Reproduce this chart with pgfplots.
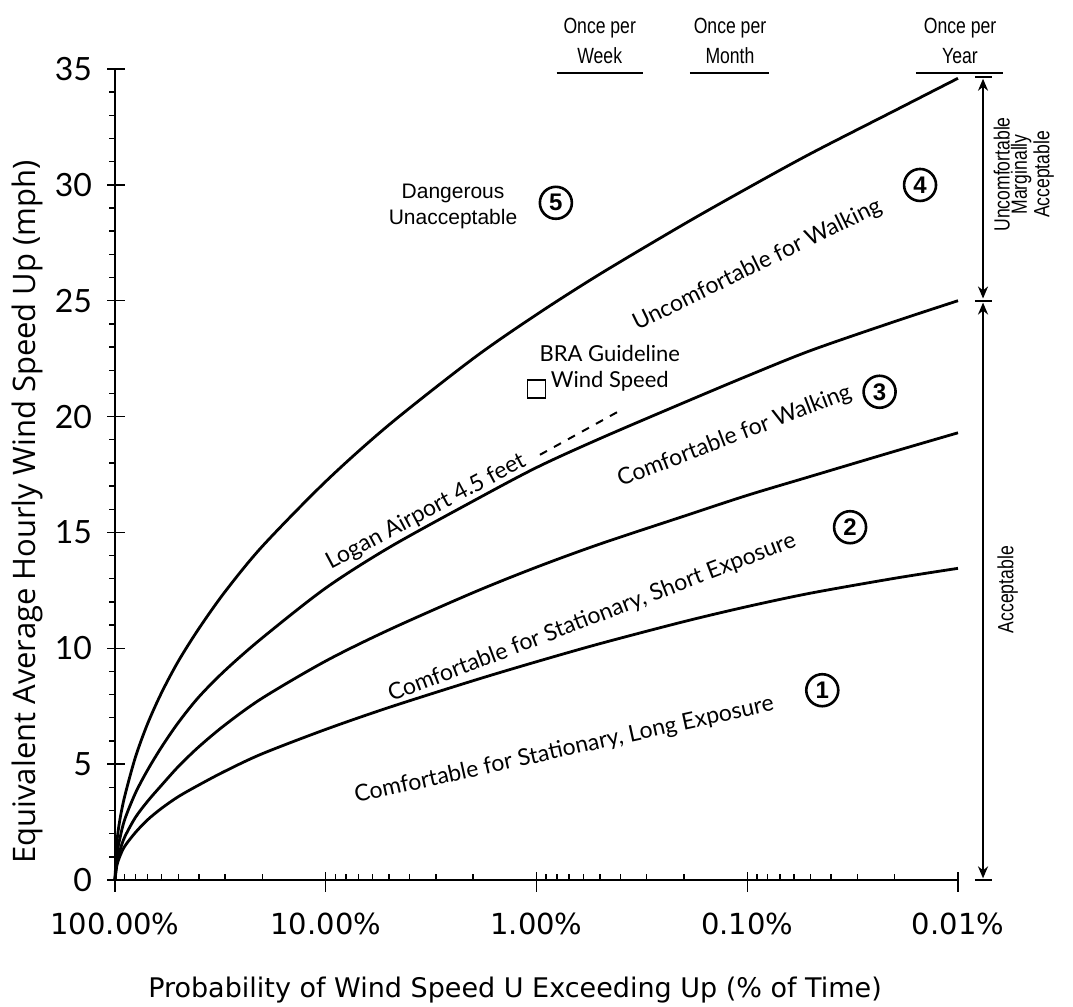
\documentclass[border=0pt]{standalone}
\usepackage{fontspec}
\usepackage{pgfplots}
\pgfplotsset{compat=1.18}
\usetikzlibrary{arrows.meta}
\setmainfont{Liberation Sans}
\newfontfamily\dejavu{DejaVu Sans}
\newfontfamily\lato{Lato}
\newfontfamily\opensans{Open Sans}
\newfontfamily\narrow[FakeStretch=0.8]{Liberation Sans}

\pgfplotstableread{
p U
100 0
98 0.62
95 1.0
90 1.45
80 2.05
70 2.6
60 3.1
50 3.6
40 4.1
30 4.7
20 5.45
10 6.5
5 7.45
2 8.6
1 9.42
0.5 10.2
0.2 11.15
0.1 11.8
0.05 12.38
0.02 13.02
0.01 13.45
}\curveA
\pgfplotstableread{
p U
100 0
98 0.8
95 1.25
90 1.85
80 2.7
70 3.4
60 4.1
50 4.9
40 5.75
30 6.7
20 7.85
10 9.45
5 10.8
2 12.4
1 13.5
0.5 14.5
0.2 15.7
0.1 16.6
0.05 17.42
0.02 18.5
0.01 19.3
}\curveB
\pgfplotstableread{
p U
100 0
98 1.1
95 1.75
90 2.6
80 3.75
70 4.75
60 5.75
50 6.8
40 7.9
30 9.05
20 10.45
10 12.6
5 14.35
2 16.35
1 17.8
0.5 19.05
0.2 20.6
0.1 21.75
0.05 22.85
0.02 24.1
0.01 25.0
}\curveC
\pgfplotstableread{
p U
100 0
98 1.6
95 2.55
90 3.6
80 5.3
70 6.75
60 8.1
50 9.45
40 10.85
30 12.45
20 14.4
10 17.2
5 19.65
2 22.5
1 24.4
0.5 26.15
0.2 28.3
0.1 29.85
0.05 31.35
0.02 33.2
0.01 34.6
}\curveD

\begin{document}
\begin{tikzpicture}
\path[use as bounding box] (-57.5pt,-63.5pt) rectangle (479pt,440pt);
\begin{axis}[
  at={(0pt,0pt)}, anchor=south west,
  scale only axis, width=421.5pt, height=405.5pt,
  xmode=log, x dir=reverse, xmin=0.01, xmax=100,
  ymin=0, ymax=35,
  axis x line*=bottom, axis y line*=left,
  axis line style={line width=0.9pt},
  clip=false,
  xtick={0.01,0.1,1,10,100},
  xticklabels={0.01\%,0.10\%,1.00\%,10.00\%,100.00\%},
  minor xtick={0.02,0.03,0.04,0.05,0.06,0.07,0.08,0.09,0.2,0.3,0.4,0.5,0.6,0.7,0.8,0.9,2,3,4,5,6,7,8,9,20,30,40,50,60,70,80,90},
  ytick={0,5,10,15,20,25,30,35},
  yticklabels={0,5,10,15,20,25,30,35},
  minor ytick={1,2,3,4,6,7,8,9,11,12,13,14,16,17,18,19,21,22,23,24,26,27,28,29,31,32,33,34},
  xtick align=inside, ytick align=outside,
  major tick length=4pt, minor tick length=3pt,
  tick style={line width=0.7pt, black},
  extra x ticks={0.01,0.1,1,10,100}, extra x tick labels={},
  extra x tick style={xtick align=outside, major tick length=6pt},
  extra y ticks={5,10,15,20,25,30,35}, extra y tick labels={},
  extra y tick style={ytick align=inside, major tick length=5pt},
  xticklabel style={font=\dejavu\fontsize{14.5}{16}\selectfont, yshift=-13pt},
  yticklabel style={font=\lato\fontsize{16}{18}\selectfont, xshift=-4pt},
  xlabel={Probability of Wind Speed U Exceeding Up (\% of Time)},
  xlabel style={font=\dejavu\fontsize{13.5}{15}\selectfont, at={(axis description cs:0.4745,0)}, anchor=center, yshift=-55pt},
  ylabel={Equivalent Average Hourly Wind Speed Up (mph)},
  ylabel style={font=\opensans\fontsize{15.5}{17}\selectfont, at={(axis description cs:-0.1044,0.4538)}, anchor=center},
]
\addplot[black, line width=1.4pt, smooth, tension=0.5] table[x=p,y=U] {\curveA};
\addplot[black, line width=1.4pt, smooth, tension=0.5] table[x=p,y=U] {\curveB};
\addplot[black, line width=1.4pt, smooth, tension=0.5] table[x=p,y=U] {\curveC};
\addplot[black, line width=1.4pt, smooth, tension=0.5] table[x=p,y=U] {\curveD};
% BRA guideline marker
\addplot[only marks, mark=square, mark size=4.5pt, mark options={line width=0.8pt, black}] coordinates {(1,21.2)};

\draw[line width=1pt, dash pattern=on 4pt off 4pt] (axis cs:0.963,18.35) -- (axis cs:0.394,20.3);

\tikzset{circnum/.style={circle, draw, line width=1.3pt, inner sep=0pt, minimum size=16pt, font=\bfseries\fontsize{12}{12}\selectfont}}
\tikzset{clab/.style={font=\lato\fontsize{11.5}{13}\selectfont, inner sep=0pt}}

\node[font=\fontsize{10.5}{13}\selectfont, align=center] at (axis description cs:0.401,0.830) {Dangerous\\Unacceptable};
\node[circnum] at (axis description cs:0.523,0.835) {5};
\node[clab, rotate=26] at (axis description cs:0.762,0.758) {Uncomfortable for Walking};
\node[circnum] at (axis description cs:0.955,0.857) {4};
\node[font=\lato\fontsize{11}{13}\selectfont, align=center] at (axis description cs:0.587,0.631) {BRA Guideline\\Wind Speed};
\node[clab, rotate=28] at (axis description cs:0.369,0.454) {Logan Airport 4.5 feet};
\node[clab, rotate=21] at (axis description cs:0.735,0.547) {Comfortable for Walking};
\node[circnum] at (axis description cs:0.907,0.602) {3};
\node[clab, rotate=21] at (axis description cs:0.566,0.323) {Comfortable for Stationary, Short Exposure};
\node[circnum] at (axis description cs:0.872,0.435) {2};
\node[clab, rotate=12.5] at (axis description cs:0.533,0.160) {Comfortable for Stationary, Long Exposure};
\node[circnum] at (axis description cs:0.839,0.234) {1};

% frequency bars at top
\tikzset{oncelab/.style={font=\narrow\fontsize{11}{15}\selectfont, align=center, anchor=south, inner sep=0pt}}
\draw[line width=1.2pt] (axis description cs:0.524,0.995) -- (axis description cs:0.626,0.995);
\node[oncelab] at (axis description cs:0.575,1.006) {Once per\\Week};
\draw[line width=1.2pt] (axis description cs:0.682,0.995) -- (axis description cs:0.776,0.995);
\node[oncelab] at (axis description cs:0.7295,1.006) {Once per\\Month};
\draw[line width=1.2pt] (axis description cs:0.950,0.995) -- (axis description cs:1.053,0.995);
\node[oncelab] at (axis description cs:1.0024,1.006) {Once per\\Year};

% right-hand range arrows
\draw[line width=1pt, {Stealth[length=6pt,width=5pt]}-{Stealth[length=6pt,width=5pt]}] (axis description cs:1.0297,0.002) -- (axis description cs:1.0297,0.712);
\draw[line width=1pt, {Stealth[length=6pt,width=5pt]}-{Stealth[length=6pt,width=5pt]}] (axis description cs:1.0297,0.717) -- (axis description cs:1.0297,0.988);
\draw[line width=1pt] (axis description cs:1.020,0) -- (axis description cs:1.040,0);
\draw[line width=1pt] (axis description cs:1.020,0.7143) -- (axis description cs:1.040,0.7143);
\draw[line width=1pt] (axis description cs:1.020,0.990) -- (axis description cs:1.040,0.990);
\node[font=\narrow\fontsize{11}{12}\selectfont, rotate=90] at (axis description cs:1.059,0.358) {Acceptable};
\node[font=\narrow\fontsize{11}{8.6}\selectfont, rotate=90, align=center] at (axis description cs:1.078,0.870) {Uncomfortable\\Marginally\\Acceptable};
\end{axis}
\end{tikzpicture}
\end{document}
